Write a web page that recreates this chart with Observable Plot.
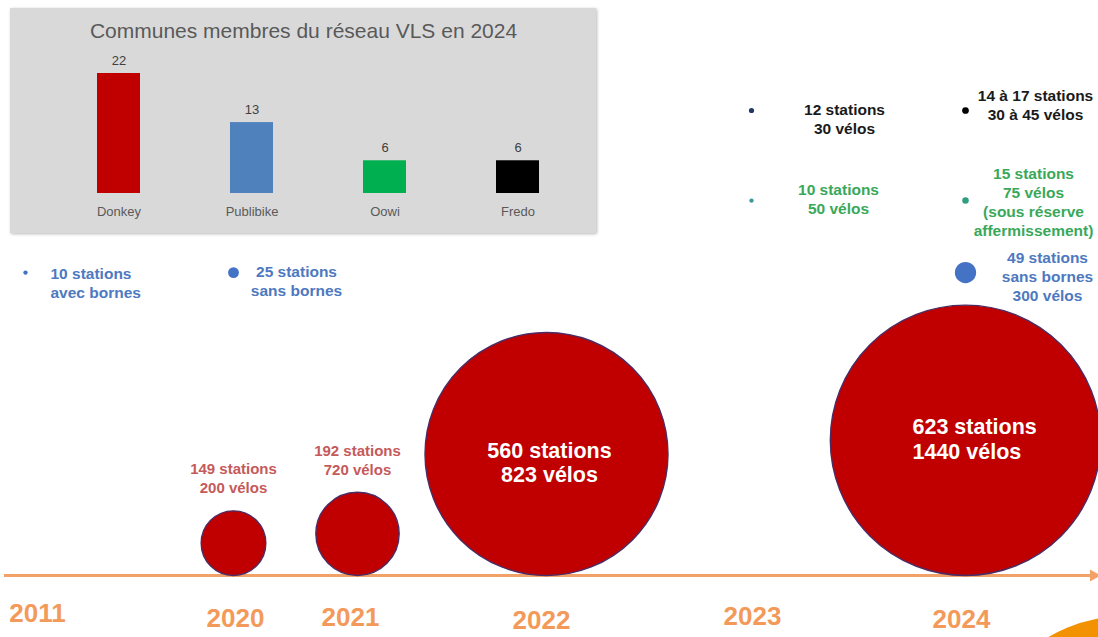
<!DOCTYPE html>
<html>
<head>
<meta charset="utf-8">
<script src="https://cdn.jsdelivr.net/npm/d3@7"></script>
<script src="https://cdn.jsdelivr.net/npm/@observablehq/plot@0.6"></script>
<style>
  html, body { margin: 0; padding: 0; background: #ffffff; width: 1098px; height: 637px; overflow: hidden; }
  body { position: relative; }
  #main { position: absolute; left: 0; top: 0; }
  #panel { position: absolute; left: 10px; top: 8px; width: 586px; height: 225px; background: #d9d9d9;
           box-shadow: 1px 1px 3px rgba(0,0,0,0.28); }
  #corner { position: absolute; left: 975px; top: 616px; width: 300px; height: 300px; border-radius: 50%; background: #f39200; }
</style>
</head>
<body>
<div id="main"></div>
<div id="panel"></div>
<div id="corner"></div>
<script>
// ---------------- DATA ----------------
const years = [2011, 2020, 2021, 2022, 2023, 2024];

const donkeyYears = [2020, 2021, 2022, 2024];
const donkeyStations = [149, 192, 560, 623];
const donkeyVelos = [200, 720, 823, 1440];

const publibikeYears = [2011, 2020, 2024];
const publibikeStations = [10, 25, 49];
const publibikeLabels = ["10 stations\navec bornes", "25 stations\nsans bornes", "49 stations\nsans bornes\n300 vélos"];

const oowiYears = [2023, 2024];
const oowiStations = [10, 15];
const oowiLabels = ["10 stations\n50 vélos", "15 stations\n75 vélos\n(sous réserve\naffermissement)"];

const fredoYears = [2023, 2024];
const fredoStations = [12, 15.5];
const fredoLabels = ["12 stations\n30 vélos", "14 à 17 stations\n30 à 45 vélos"];

const operators = ["Donkey", "Publibike", "Oowi", "Fredo"];
const communes2024 = [22, 13, 6, 6];
const insetTitle = "Communes membres du réseau VLS en 2024";

// ---------------- STYLE / LAYOUT ----------------
const FONT = "'Liberation Sans', Arial, Helvetica, sans-serif";
const operatorColors = ["#c00000", "#4f81bd", "#00b050", "#000000"];
const axisColor = "#f2a267";
const yearColor = "#f39a5b";
const rowLevel = {Publibike: 1396, Oowi: 1728, Fredo: 2143}; // in station units above the timeline
const publibikeLayout = [{dx: 25, dy: 9.5, anchor: "start"}, {dx: 63, dy: 7.5}, {dx: 82, dy: 3.5}];
const oowiLayout = [{dx: 87, dy: -2.5}, {dx: 68, dy: 1}];
const fredoLayout = [{dx: 93, dy: 7.5}, {dx: 70, dy: -6.5}];
const oowiDotColors = ["#3b9b9b", "#2f9e80"];
const fredoDotColors = ["#1f3864", "#000000"];
const yearLayout = {2011: {dx: 12, y: 613}, 2020: {dx: 2, y: 618}, 2021: {dx: -7, y: 617},
                    2022: {dx: -5, y: 620}, 2023: {dx: 1, y: 616}, 2024: {dx: -4, y: 619}};

const donkey = donkeyYears.map((year, i) => ({year, stations: donkeyStations[i], velos: donkeyVelos[i]}));
const pub = publibikeYears.map((year, i) => ({year, stations: publibikeStations[i], label: publibikeLabels[i]}));
const oowi = oowiYears.map((year, i) => ({year, stations: oowiStations[i], label: oowiLabels[i], color: oowiDotColors[i]}));
const fredo = fredoYears.map((year, i) => ({year, stations: fredoStations[i], label: fredoLabels[i], color: fredoDotColors[i]}));

function labelMarks(rowsArr, row, layout, fill) {
  return rowsArr.map((d, i) => Plot.text([d], {
    x: "year", y: () => rowLevel[row], text: "label",
    dx: layout[i].dx, dy: layout[i].dy, textAnchor: layout[i].anchor || "middle",
    lineAnchor: "middle", lineHeight: 1.22, fontSize: 15.5, fontWeight: "bold", fill
  }));
}

const main = Plot.plot({
  width: 1098, height: 637, margin: 0,
  style: {fontFamily: FONT, background: "transparent", overflow: "visible"},
  x: {type: "linear", domain: years, range: [25, 233, 357, 546, 751, 965], axis: null},
  y: {domain: [0, 2650], range: [575, 0], axis: null},
  r: {type: "linear", domain: [0, 623], range: [0, 623 * 575 / 2650]},
  color: {type: "identity"},
  marks: [
    Plot.ruleY([0], {stroke: axisColor, strokeWidth: 3, insetLeft: 4, insetRight: 7}),
    Plot.dot([0], {y: d => d, frameAnchor: "right", dx: -5, symbol: "triangle", r: 4.5, rotate: 90, fill: axisColor}),
    // Donkey bubbles
    Plot.dot(donkey, {x: "year", y: "stations", r: "stations", fill: "#c00000", stroke: "#4b2c63", strokeWidth: 1.4}),
    Plot.text(donkey.filter(d => d.stations < 300), {
      x: "year", y: d => 2 * d.stations, dy: -33,
      text: d => `${d.stations} stations\n${d.velos} vélos`,
      lineAnchor: "middle", lineHeight: 1.25, fontSize: 15, fontWeight: "bold", fill: "#c55a5a"
    }),
    Plot.text(donkey.filter(d => d.year === 2022), {
      x: "year", y: "stations", dx: 3, dy: 8.5,
      text: d => `${d.stations} stations\n${d.velos} vélos`,
      lineAnchor: "middle", lineHeight: 1.12, fontSize: 21.5, fontWeight: "bold", fill: "#ffffff"
    }),
    Plot.text(donkey.filter(d => d.year === 2024), {
      x: "year", y: "stations", dx: -53, dy: -1.5, textAnchor: "start",
      text: d => `${d.stations} stations\n${d.velos} vélos`,
      lineAnchor: "middle", lineHeight: 1.15, fontSize: 21.5, fontWeight: "bold", fill: "#ffffff"
    }),
    // Publibike
    Plot.dot(pub, {x: "year", y: () => rowLevel.Publibike, r: "stations", fill: "#4472c4"}),
    ...labelMarks(pub, "Publibike", publibikeLayout, "#4e79c0"),
    // Oowi
    Plot.dot(oowi, {x: "year", y: () => rowLevel.Oowi, r: "stations", fill: "color"}),
    ...labelMarks(oowi, "Oowi", oowiLayout, "#39a85a"),
    // Fredo
    Plot.dot(fredo, {x: "year", y: () => rowLevel.Fredo, r: "stations", fill: "color"}),
    ...labelMarks(fredo, "Fredo", fredoLayout, "#1a1a1a"),
    // Year labels
    ...years.map(yr => Plot.text([yr], {
      x: d => d, frameAnchor: "top", dx: yearLayout[yr].dx, dy: yearLayout[yr].y,
      text: d => String(d), lineAnchor: "middle", fontSize: 26, fontWeight: "bold", fill: yearColor
    }))
  ]
});
document.getElementById("main").appendChild(main);

// ---------------- INSET BAR CHART ----------------
const bars = operators.map((operator, i) => ({operator, communes: communes2024[i], color: operatorColors[i]}));
const inset = Plot.plot({
  width: 586, height: 225, margin: 0,
  style: {fontFamily: FONT, background: "transparent"},
  x: {domain: operators, range: [63, 553], paddingInner: 0.68, paddingOuter: 0.18, axis: null},
  y: {domain: [0, 22], range: [185, 65], axis: null},
  color: {type: "identity"},
  marks: [
    Plot.barY(bars, {x: "operator", y: "communes", fill: "color"}),
    Plot.text(bars, {x: "operator", y: "communes", text: d => String(d.communes), dy: -13, lineAnchor: "middle", fontSize: 13, fill: "#404040"}),
    Plot.text(bars, {x: "operator", y: () => 0, text: "operator", dy: 18, lineAnchor: "middle", fontSize: 13, fill: "#595959"}),
    Plot.text([insetTitle], {frameAnchor: "top", text: d => d, dy: 23, lineAnchor: "middle", fontSize: 21, fill: "#595959"})
  ]
});
document.getElementById("panel").appendChild(inset);
</script>
</body>
</html>
